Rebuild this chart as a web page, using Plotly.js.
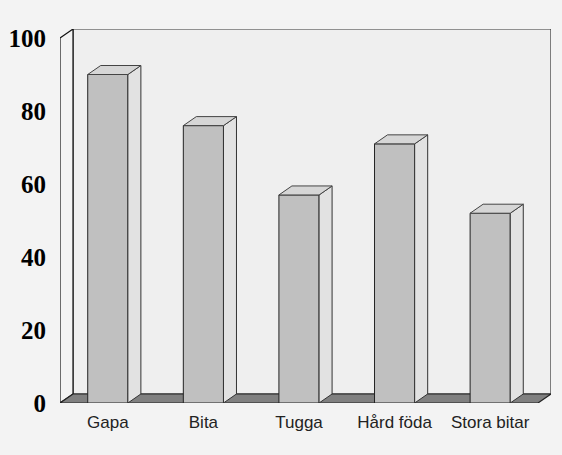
<!DOCTYPE html>
<html>
<head>
<meta charset="utf-8">
<script src="https://cdn.plot.ly/plotly-3.0.1.min.js"></script>
<style>html,body{margin:0;padding:0;background:#f3f3f3;}#chart{width:562px;height:455px;}</style>
</head>
<body>
<div id="chart"></div>
<script>
// Data
const categories = ["Gapa", "Bita", "Tugga", "Hård föda", "Stora bitar"];
const values = [90, 76, 57, 71, 52];
const yTicks = [0, 20, 40, 60, 80, 100];

// 3D look constants (depth offset in axis units)
const N = categories.length;
const DX = 0.136;
const DY = 2.47;
const BW = 0.42;
const YMAX = 100;

const pos = categories.map((c, i) => i + 0.5);

const traces = [];
traces.push({
  type: 'bar', x: pos, y: values, width: BW,
  marker: {color: '#c0c0c0', line: {color: '#222', width: 1}},
  hoverinfo: 'skip', showlegend: false
});
values.forEach((v, i) => {
  const l = pos[i] - BW / 2, r = pos[i] + BW / 2;
  traces.push({
    type: 'scatter', mode: 'lines', fill: 'toself', fillcolor: '#e2e2e2',
    x: [r, r + DX, r + DX, r, r], y: [0, DY, v + DY, v, 0],
    line: {color: '#333', width: 1}, hoverinfo: 'skip', showlegend: false
  });
  traces.push({
    type: 'scatter', mode: 'lines', fill: 'toself', fillcolor: '#d6d6d6',
    x: [l, r, r + DX, l + DX, l], y: [v, v, v + DY, v + DY, v],
    line: {color: '#444', width: 1}, hoverinfo: 'skip', showlegend: false
  });
});

const layout = {
  width: 562, height: 455,
  margin: {l: 60, r: 11, t: 29, b: 52},
  paper_bgcolor: '#f3f3f3', plot_bgcolor: 'rgba(0,0,0,0)',
  showlegend: false,
  xaxis: {
    range: [0, N + DX], showgrid: false, zeroline: false, showline: false,
    tickvals: pos, ticktext: categories, ticks: 'outside', ticklen: 4,
    tickcolor: 'rgba(0,0,0,0)',
    tickfont: {family: 'Liberation Sans, Arial, sans-serif', size: 17, color: '#222'}
  },
  yaxis: {
    range: [0, YMAX + DY], showgrid: false, zeroline: false, showline: false,
    tickvals: yTicks, ticktext: yTicks.map(String), ticks: 'outside', ticklen: 8,
    tickcolor: 'rgba(0,0,0,0)',
    tickfont: {family: 'Liberation Serif, Times New Roman, serif', size: 25, color: '#000', weight: 'bold'}
  },
  shapes: [
    {type: 'rect', layer: 'below', xref: 'x', yref: 'y', x0: DX, x1: N + DX, y0: DY, y1: YMAX + DY,
     fillcolor: '#efefef', line: {color: '#333', width: 1.2}},
    {type: 'path', layer: 'below', xref: 'x', yref: 'y',
     path: `M0,0 L${DX},${DY} L${DX},${YMAX + DY} L0,${YMAX} Z`,
     fillcolor: '#f3f3f3', line: {color: '#111', width: 1.2}},
    {type: 'path', layer: 'below', xref: 'x', yref: 'y',
     path: `M0,0 L${N},0 L${N + DX},${DY} L${DX},${DY} Z`,
     fillcolor: '#808080', line: {color: '#222', width: 1.2}}
  ]
};

Plotly.newPlot('chart', traces, layout, {staticPlot: true, displayModeBar: false});
</script>
</body>
</html>
